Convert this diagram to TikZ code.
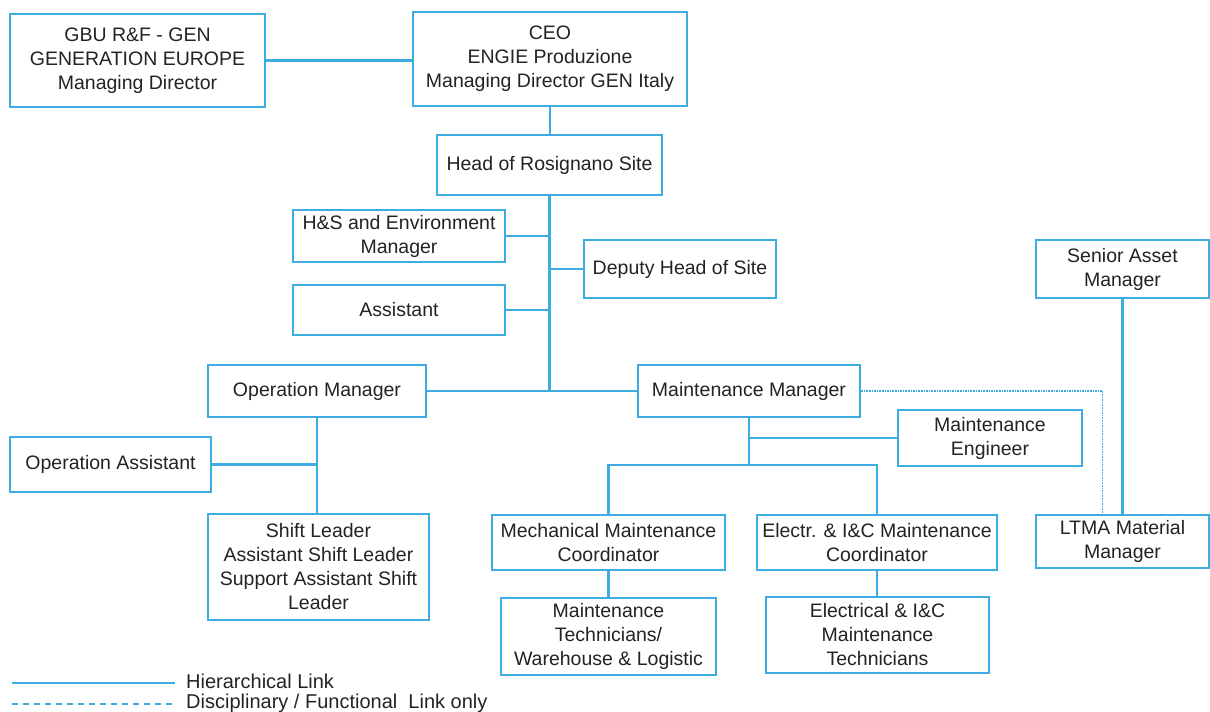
\documentclass[tikz,border=0pt]{standalone}
\usepackage{fontspec}
\setmainfont{Liberation Sans}
\usepackage{tikz}
\definecolor{linkblue}{RGB}{60,172,225}
\definecolor{inkgray}{RGB}{35,35,35}
\tikzstyle{post} = [draw=linkblue, line width=2.3pt, rectangle, align=center, fill=white, text=inkgray, inner sep=2pt]
\tikzstyle{link} = [draw=linkblue, line width=2.3pt]
\tikzstyle{funclink} = [draw=linkblue, line width=1.6pt, densely dotted]

\begin{document}
\begin{tikzpicture}[x=1pt, y=-1pt, font=\fontsize{19.5}{24}\selectfont]
\useasboundingbox (0,0) rectangle (1210,712);
% top level
\node (gbu) [post, minimum width=255pt, minimum height=93pt] at (137.5,60.5) {GBU R\&F - GEN\\GENERATION EUROPE\\Managing Director};
\node (ceo) [post, minimum width=274pt, minimum height=94pt] at (550,59) {CEO\\ENGIE Produzione\\Managing Director GEN Italy};
\draw [link] (gbu.east) -- (gbu.east -| ceo.west);
\node (head) [post, minimum width=225pt, minimum height=60pt] at (549.5,165) {Head of Rosignano Site};
\draw [link] (ceo.south) -- (ceo.south |- head.north);
% site staff
\node (hs) [post, minimum width=212pt, minimum height=52pt] at (399,236) {H\&S and Environment\\Manager};
\node (asst) [post, minimum width=212pt, minimum height=50pt] at (399,310) {Assistant};
\node (deputy) [post, minimum width=192pt, minimum height=58pt] at (680,269) {Deputy Head of Site};
\node (opm) [post, minimum width=218pt, minimum height=52pt] at (317,391) {Operation Manager};
\node (mm) [post, minimum width=222pt, minimum height=52pt] at (749,391) {Maintenance Manager};
\draw [link] (head.south) -- (head.south |- mm.west);
\draw [link] (hs.east) -- (hs.east -| head.south);
\draw [link] (asst.east) -- (asst.east -| head.south);
\draw [link] (deputy.west) -- (deputy.west -| head.south);
\draw [link] (opm.east) -- (mm.west);
% operation
\node (opa) [post, minimum width=201pt, minimum height=55pt] at (110.5,464.5) {Operation Assistant};
\node (shift) [post, minimum width=221pt, minimum height=106pt] at (318.5,567) {Shift Leader\\Assistant Shift Leader\\Support Assistant Shift\\Leader};
\draw [link] (opm.south) -- (opm.south |- shift.north);
\draw [link] (opa.east) -- (opa.east -| opm.south);
% maintenance
\node (me) [post, minimum width=184pt, minimum height=56pt] at (990,438) {Maintenance\\Engineer};
\node (mech) [post, minimum width=233pt, minimum height=55pt] at (608.5,542.5) {Mechanical Maintenance\\Coordinator};
\node (elec) [post, minimum width=240pt, minimum height=55pt] at (877,542.5) {Electr. \& I\&C Maintenance\\Coordinator};
\coordinate (mjoin) at (749,465);
\draw [link] (mm.south) -- (mjoin);
\draw [link] (me.west) -- (me.west -| mm.south);
\draw [link] (mech.north) |- (mjoin) -| (elec.north);
\node (mtech) [post, minimum width=215pt, minimum height=77pt] at (608.5,636.5) {Maintenance\\Technicians/\\Warehouse \& Logistic};
\node (etech) [post, minimum width=223pt, minimum height=76pt] at (877.5,635) {Electrical \& I\&C\\Maintenance\\Technicians};
\draw [link] (mech.south) -- (mech.south |- mtech.north);
\draw [link] (elec.south) -- (elec.south |- etech.north);
% asset management
\node (sam) [post, minimum width=173pt, minimum height=58pt] at (1122.5,269) {Senior Asset\\Manager};
\node (ltma) [post, minimum width=173pt, minimum height=53pt] at (1122.5,541.5) {LTMA Material\\Manager};
\draw [link] (sam.south) -- (sam.south |- ltma.north);
\draw [funclink] (mm.east) -| ([xshift=-20pt]ltma.north);
% legend
\coordinate (hlA) at (12,683);
\coordinate (hlB) at (175,683);
\coordinate (flA) at (12,704);
\coordinate (flB) at (175,704);
\draw [link] (hlA) -- (hlB);
\draw [draw=linkblue, line width=2pt, dash pattern=on 6pt off 5pt] (flA) -- (flB);
\node (hltext) [anchor=west, text=inkgray, inner sep=0pt, font=\fontsize{20}{24}\selectfont] at (186,681) {Hierarchical Link};
\node (fltext) [anchor=west, text=inkgray, inner sep=0pt, font=\fontsize{20}{24}\selectfont] at (186,703) {Disciplinary / Functional\ \ Link only};
\end{tikzpicture}
\end{document}
